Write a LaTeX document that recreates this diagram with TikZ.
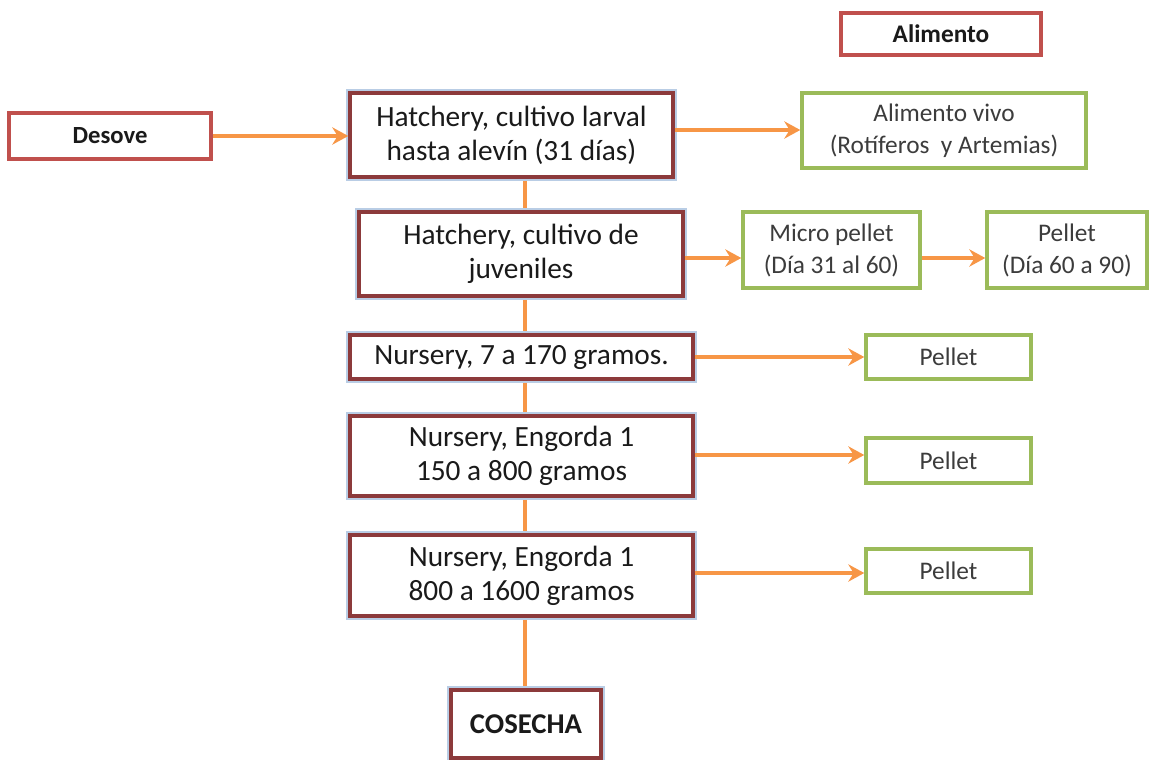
\documentclass[tikz,border=0pt]{standalone}
\usepackage{fontspec}
\setmainfont{Carlito}
\usetikzlibrary{arrows.meta,backgrounds}

\definecolor{stagered}{HTML}{8C3A3B}
\definecolor{labelred}{HTML}{C0504D}
\definecolor{feedgreen}{HTML}{9BBB59}
\definecolor{flow}{HTML}{F79646}
\definecolor{glow}{HTML}{B9CDE5}
\definecolor{ink}{HTML}{1A1A1A}

\tikzset{
  stage/.style={draw=stagered, line width=2.6pt, fill=white, align=center,
    inner sep=0pt, text=ink, font=\fontsize{22}{25.5}\selectfont,
    preaction={draw=glow, line width=6.5pt}},
  feed/.style={draw=feedgreen, line width=2.6pt, fill=white, align=center,
    inner sep=0pt, text=ink!85, font=\fontsize{19}{24}\selectfont},
  tag/.style={draw=labelred, line width=2.6pt, fill=white, align=center,
    inner sep=0pt, text=ink, font=\bfseries\fontsize{18.5}{22}\selectfont},
  flowarrow/.style={draw=flow, line width=3pt, -{Stealth[length=12pt,width=13pt,inset=4pt]}},
  trunk/.style={draw=flow, line width=3pt},
  box/.style 2 args={minimum width=#1*0.75pt, minimum height=#2*0.75pt}
}

\begin{document}
\begin{tikzpicture}[x=0.75pt, y=-0.75pt]
  \useasboundingbox (0,0) rectangle (1149,760);

  % legend tag
  \node[tag, box={200}{42}, font=\bfseries\fontsize{19}{22}\selectfont] (alim) at (941,34) {Alimento};

  % production stages
  \node[tag, box={202}{46}] (desove) at (110,136) {Desove};
  \node[stage, box={323}{84}] (h1) at (511.5,135) {Hatchery, cultivo larval\\hasta alevín (31 días)};
  \node[stage, box={324}{84}] (h2) at (521,254) {Hatchery, cultivo de\\juveniles};
  \node[stage, box={343}{44}] (n1) at (521.5,357) {Nursery, 7 a 170 gramos.};
  \node[stage, box={343}{80}] (n2) at (521.5,456) {Nursery, Engorda 1\\150 a 800 gramos};
  \node[stage, box={343}{81}] (n3) at (521.5,575.5) {Nursery, Engorda 1\\800 a 1600 gramos};
  \node[stage, box={150}{68}, font=\bfseries\fontsize{21.5}{25}\selectfont] (cos) at (526,724) {COSECHA};

  % feed boxes
  \node[feed, box={284}{75}] (vivo) at (944,130.5) {Alimento vivo\\(Rotíferos \ y Artemias)};
  \node[feed, box={177}{76}] (micro) at (831.5,250) {Micro pellet\\(Día 31 al 60)};
  \node[feed, box={160}{76}] (pel0) at (1067,250) {Pellet\\(Día 60 a 90)};
  \node[feed, box={165}{44}] (p1) at (948.5,357) {Pellet};
  \node[feed, box={165}{45}] (p2) at (948.5,460.5) {Pellet};
  \node[feed, box={165}{44}] (p3) at (948.5,571) {Pellet};

  % main line through the stages
  \coordinate (tx) at (525,0);
  \begin{scope}[on background layer]
    \draw[trunk] (h1.south -| tx) -- (cos.north -| tx);
  \end{scope}

  % feeding arrows
  \draw[flowarrow] (desove.east) -- (desove.east -| h1.west);
  \draw[flowarrow] (h1.east |- 0,130) -- (vivo.west |- 0,130);
  \draw[flowarrow] (h2.east |- 0,258) -- (micro.west |- 0,258);
  \draw[flowarrow] (micro.east |- 0,258) -- (pel0.west |- 0,258);
  \draw[flowarrow] (n1.east) -- (p1.west);
  \draw[flowarrow] (n2.east |- 0,455) -- (p2.west |- 0,455);
  \draw[flowarrow] (n3.east |- 0,573) -- (p3.west |- 0,573);
\end{tikzpicture}
\end{document}
